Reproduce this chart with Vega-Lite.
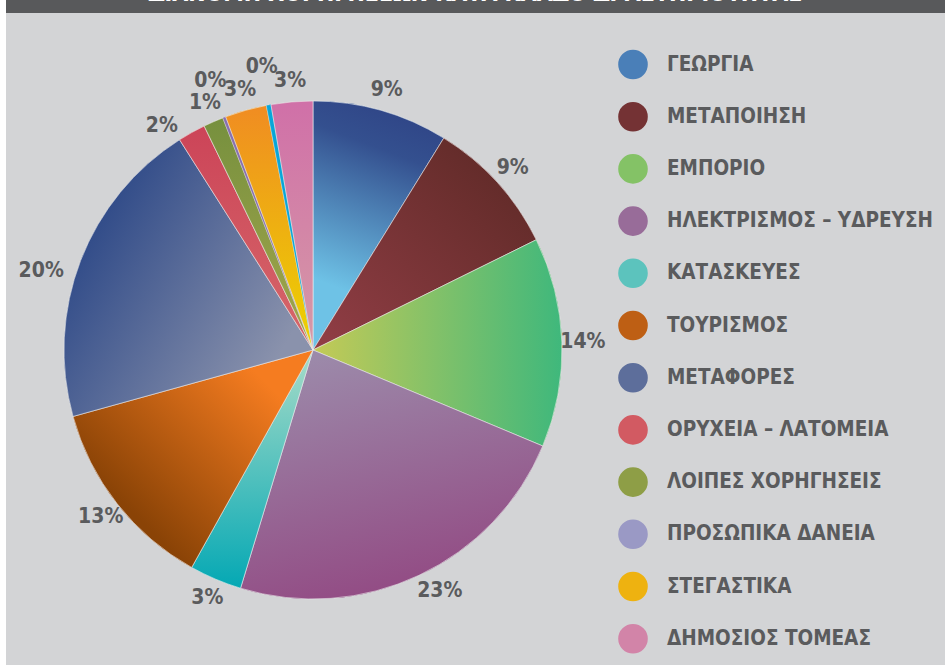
{
  "$schema": "https://vega.github.io/schema/vega-lite/v6.json",
  "background": "white",
  "padding": {"left": 6, "top": 0, "right": 0, "bottom": 0},
  "spacing": 0,
  "config": {"view": {"stroke": null}, "font": "DejaVu Sans Condensed"},
  "datasets": {
    "slices": [
      {"idx": 0, "cat": "ΓΕΩΡΓΙΑ", "value": 8.8, "label": "9%"},
      {"idx": 1, "cat": "ΜΕΤΑΠΟΙΗΣΗ", "value": 8.9, "label": "9%"},
      {"idx": 2, "cat": "ΕΜΠΟΡΙΟ", "value": 13.6, "label": "14%"},
      {"idx": 3, "cat": "ΗΛΕΚΤΡΙΣΜΟΣ – ΥΔΡΕΥΣΗ", "value": 23.4, "label": "23%"},
      {"idx": 4, "cat": "ΚΑΤΑΣΚΕΥΕΣ", "value": 3.4, "label": "3%"},
      {"idx": 5, "cat": "ΤΟΥΡΙΣΜΟΣ", "value": 12.6, "label": "13%"},
      {"idx": 6, "cat": "ΜΕΤΑΦΟΡΕΣ", "value": 20.3, "label": "20%"},
      {"idx": 7, "cat": "ΟΡΥΧΕΙΑ – ΛΑΤΟΜΕΙΑ", "value": 1.8, "label": "2%"},
      {"idx": 8, "cat": "ΛΟΙΠΕΣ ΧΟΡΗΓΗΣΕΙΣ", "value": 1.3, "label": "1%"},
      {"idx": 9, "cat": "ΠΡΟΣΩΠΙΚΑ ΔΑΝΕΙΑ", "value": 0.2, "label": "0%"},
      {"idx": 10, "cat": "ΣΤΕΓΑΣΤΙΚΑ", "value": 2.7, "label": "3%"},
      {"idx": 11, "cat": "ΛΟΙΠΑ", "value": 0.3, "label": "0%"},
      {"idx": 12, "cat": "ΔΗΜΟΣΙΟΣ ΤΟΜΕΑΣ", "value": 2.7, "label": "3%"}
    ],
    "heading": [{"t": "ΔΙΑΝΟΜΗ ΧΟΡΗΓΗΣΕΩΝ ΚΑΤΑ ΚΛΑΔΟ ΔΡΑΣΤΗΡΙΟΤΗΤΑΣ"}]
  },
  "resolve": {"scale": {"color": "independent"}, "legend": {"color": "independent"}},
  "vconcat": [
    {
      "data": {"name": "heading"},
      "width": 939,
      "height": 13,
      "view": {"fill": "#58595b", "stroke": null},
      "mark": {"type": "text", "clip": true, "color": "#ffffff", "fontSize": 23, "fontWeight": "bold", "baseline": "alphabetic", "align": "center", "dy": -6},
      "encoding": {
        "x": {"field": "t", "type": "nominal", "axis": null},
        "y": {"field": "t", "type": "nominal", "axis": null},
        "text": {"field": "t"}
      }
    },
    {
      "data": {"name": "slices"},
      "width": 939,
      "height": 652,
      "view": {"fill": "#d3d4d6", "stroke": null},
      "transform": [{"stack": "value", "groupby": [], "sort": [{"field": "idx", "order": "ascending"}], "as": ["v0", "v1"]}],
      "layer": [
        {
          "mark": {"type": "arc", "radius": 249, "x": 307, "y": 337},
          "encoding": {
            "theta": {"field": "v0", "type": "quantitative", "scale": {"domain": [0, 100]}},
            "theta2": {"field": "v1"},
            "color": {
              "field": "cat", "type": "nominal",
              "scale": {
                "domain": ["ΓΕΩΡΓΙΑ", "ΜΕΤΑΠΟΙΗΣΗ", "ΕΜΠΟΡΙΟ", "ΗΛΕΚΤΡΙΣΜΟΣ – ΥΔΡΕΥΣΗ", "ΚΑΤΑΣΚΕΥΕΣ", "ΤΟΥΡΙΣΜΟΣ", "ΜΕΤΑΦΟΡΕΣ", "ΟΡΥΧΕΙΑ – ΛΑΤΟΜΕΙΑ", "ΛΟΙΠΕΣ ΧΟΡΗΓΗΣΕΙΣ", "ΠΡΟΣΩΠΙΚΑ ΔΑΝΕΙΑ", "ΣΤΕΓΑΣΤΙΚΑ", "ΛΟΙΠΑ", "ΔΗΜΟΣΙΟΣ ΤΟΜΕΑΣ"],
                "range": ["#4a7fb8", "#743234", "#84c266", "#986c99", "#5cc3bd", "#be5f14", "#5d6e9b", "#d25a62", "#8e9e46", "#9a99c5", "#eeb210", "#08a6d8", "#d284a8"]
              },
              "legend": {
                "orient": "none", "legendX": 612, "legendY": 36.5, "title": null, "padding": 0,
                "values": ["ΓΕΩΡΓΙΑ", "ΜΕΤΑΠΟΙΗΣΗ", "ΕΜΠΟΡΙΟ", "ΗΛΕΚΤΡΙΣΜΟΣ – ΥΔΡΕΥΣΗ", "ΚΑΤΑΣΚΕΥΕΣ", "ΤΟΥΡΙΣΜΟΣ", "ΜΕΤΑΦΟΡΕΣ", "ΟΡΥΧΕΙΑ – ΛΑΤΟΜΕΙΑ", "ΛΟΙΠΕΣ ΧΟΡΗΓΗΣΕΙΣ", "ΠΡΟΣΩΠΙΚΑ ΔΑΝΕΙΑ", "ΣΤΕΓΑΣΤΙΚΑ", "ΔΗΜΟΣΙΟΣ ΤΟΜΕΑΣ"],
                "symbolType": "circle", "symbolSize": 876, "symbolStrokeWidth": 0, "symbolOpacity": 1,
                "labelFont": "DejaVu Sans Condensed", "labelFontSize": 20.5, "labelFontWeight": 600, "labelColor": "#5a5b5d",
                "labelLimit": 400, "labelOffset": 19, "rowPadding": 22.2
              }
            }
          }
        },
        {"transform": [{"filter": "datum.idx === 0"}], "mark": {"type": "arc", "radius": 249, "x": 307, "y": 337, "stroke": "#ececec", "strokeWidth": 0.6, "fill": {"gradient": "linear", "x1": 0.6, "y1": 0, "x2": 0.4, "y2": 1, "stops": [{"offset": 0, "color": "#2f4486"}, {"offset": 0.2, "color": "#34508f"}, {"offset": 0.8, "color": "#6ec2e6"}, {"offset": 1, "color": "#6ec2e6"}]}}, "encoding": {"theta": {"field": "v0", "type": "quantitative"}, "theta2": {"field": "v1"}}},
        {"transform": [{"filter": "datum.idx === 1"}], "mark": {"type": "arc", "radius": 249, "x": 307, "y": 337, "stroke": "#ececec", "strokeWidth": 0.6, "fill": {"gradient": "linear", "x1": 1, "y1": 0, "x2": 0, "y2": 1, "stops": [{"offset": 0, "color": "#5a2824"}, {"offset": 1, "color": "#923e46"}]}}, "encoding": {"theta": {"field": "v0", "type": "quantitative"}, "theta2": {"field": "v1"}}},
        {"transform": [{"filter": "datum.idx === 2"}], "mark": {"type": "arc", "radius": 249, "x": 307, "y": 337, "stroke": "#ececec", "strokeWidth": 0.6, "fill": {"gradient": "linear", "x1": 0, "y1": 0.5, "x2": 1, "y2": 0.5, "stops": [{"offset": 0, "color": "#c4ca56"}, {"offset": 1, "color": "#3fb87c"}]}}, "encoding": {"theta": {"field": "v0", "type": "quantitative"}, "theta2": {"field": "v1"}}},
        {"transform": [{"filter": "datum.idx === 3"}], "mark": {"type": "arc", "radius": 249, "x": 307, "y": 337, "stroke": "#ececec", "strokeWidth": 0.6, "fill": {"gradient": "linear", "x1": 0.3, "y1": 0, "x2": 0.6, "y2": 1, "stops": [{"offset": 0, "color": "#9c8aaa"}, {"offset": 1, "color": "#924882"}]}}, "encoding": {"theta": {"field": "v0", "type": "quantitative"}, "theta2": {"field": "v1"}}},
        {"transform": [{"filter": "datum.idx === 4"}], "mark": {"type": "arc", "radius": 249, "x": 307, "y": 337, "stroke": "#ececec", "strokeWidth": 0.6, "fill": {"gradient": "linear", "x1": 0.5, "y1": 0, "x2": 0.5, "y2": 1, "stops": [{"offset": 0, "color": "#a8dcc8"}, {"offset": 1, "color": "#04a8b4"}]}}, "encoding": {"theta": {"field": "v0", "type": "quantitative"}, "theta2": {"field": "v1"}}},
        {"transform": [{"filter": "datum.idx === 5"}], "mark": {"type": "arc", "radius": 249, "x": 307, "y": 337, "stroke": "#ececec", "strokeWidth": 0.6, "fill": {"gradient": "linear", "x1": 0.85, "y1": 0.2, "x2": 0.25, "y2": 0.75, "stops": [{"offset": 0, "color": "#f57c20"}, {"offset": 1, "color": "#8a4306"}]}}, "encoding": {"theta": {"field": "v0", "type": "quantitative"}, "theta2": {"field": "v1"}}},
        {"transform": [{"filter": "datum.idx === 6"}], "mark": {"type": "arc", "radius": 249, "x": 307, "y": 337, "stroke": "#ececec", "strokeWidth": 0.6, "fill": {"gradient": "linear", "x1": 0.1, "y1": 0.3, "x2": 0.85, "y2": 0.8, "stops": [{"offset": 0, "color": "#2f4a88"}, {"offset": 1, "color": "#8a92ac"}]}}, "encoding": {"theta": {"field": "v0", "type": "quantitative"}, "theta2": {"field": "v1"}}},
        {"transform": [{"filter": "datum.idx === 7"}], "mark": {"type": "arc", "radius": 249, "x": 307, "y": 337, "stroke": "#ececec", "strokeWidth": 0.6, "fill": {"gradient": "linear", "x1": 0.5, "y1": 0, "x2": 0.5, "y2": 1, "stops": [{"offset": 0, "color": "#cc4458"}, {"offset": 1, "color": "#d6686a"}]}}, "encoding": {"theta": {"field": "v0", "type": "quantitative"}, "theta2": {"field": "v1"}}},
        {"transform": [{"filter": "datum.idx === 8"}], "mark": {"type": "arc", "radius": 249, "x": 307, "y": 337, "stroke": "#ececec", "strokeWidth": 0.6, "fill": {"gradient": "linear", "x1": 0.5, "y1": 0, "x2": 0.5, "y2": 1, "stops": [{"offset": 0, "color": "#76903e"}, {"offset": 1, "color": "#a4a64c"}]}}, "encoding": {"theta": {"field": "v0", "type": "quantitative"}, "theta2": {"field": "v1"}}},
        {"transform": [{"filter": "datum.idx === 9"}], "mark": {"type": "arc", "radius": 249, "x": 307, "y": 337, "stroke": "#ececec", "strokeWidth": 0.3, "fill": "#8870b0"}, "encoding": {"theta": {"field": "v0", "type": "quantitative"}, "theta2": {"field": "v1"}}},
        {"transform": [{"filter": "datum.idx === 10"}], "mark": {"type": "arc", "radius": 249, "x": 307, "y": 337, "stroke": "#ececec", "strokeWidth": 0.6, "fill": {"gradient": "linear", "x1": 0.5, "y1": 0, "x2": 0.5, "y2": 1, "stops": [{"offset": 0, "color": "#f08c22"}, {"offset": 1, "color": "#ecd400"}]}}, "encoding": {"theta": {"field": "v0", "type": "quantitative"}, "theta2": {"field": "v1"}}},
        {"transform": [{"filter": "datum.idx === 11"}], "mark": {"type": "arc", "radius": 249, "x": 307, "y": 337, "stroke": "#ececec", "strokeWidth": 0.3, "fill": "#08a6d8"}, "encoding": {"theta": {"field": "v0", "type": "quantitative"}, "theta2": {"field": "v1"}}},
        {"transform": [{"filter": "datum.idx === 12"}], "mark": {"type": "arc", "radius": 249, "x": 307, "y": 337, "stroke": "#ececec", "strokeWidth": 0.6, "fill": {"gradient": "linear", "x1": 0.5, "y1": 0, "x2": 0.5, "y2": 1, "stops": [{"offset": 0, "color": "#d070a8"}, {"offset": 1, "color": "#d69aa6"}]}}, "encoding": {"theta": {"field": "v0", "type": "quantitative"}, "theta2": {"field": "v1"}}},
        {
          "mark": {"type": "text", "radius": 270, "x": 307, "y": 337, "fontSize": 21, "fontWeight": "bold", "font": "DejaVu Sans Condensed", "color": "#5a5b5d", "align": "center", "baseline": "middle"},
          "encoding": {
            "theta": {"field": "value", "type": "quantitative", "stack": true},
            "order": {"field": "idx", "type": "quantitative"},
            "text": {"field": "label"},
            "opacity": {"condition": {"test": "datum.label === '0%' || datum.idx === 6 || datum.idx === 7 || datum.idx === 3", "value": 0}, "value": 1}
          }
        },
        {
          "mark": {"type": "text", "radius": 272, "thetaOffset": -0.045, "x": 307, "y": 337, "fontSize": 21, "fontWeight": "bold", "font": "DejaVu Sans Condensed", "color": "#5a5b5d", "align": "center", "baseline": "middle"},
          "encoding": {
            "theta": {"field": "value", "type": "quantitative", "stack": true},
            "order": {"field": "idx", "type": "quantitative"},
            "text": {"field": "label"},
            "opacity": {"condition": {"test": "datum.idx === 3", "value": 1}, "value": 0}
          }
        },
        {
          "mark": {"type": "text", "radius": 283, "thetaOffset": -0.085, "x": 307, "y": 337, "fontSize": 21, "fontWeight": "bold", "font": "DejaVu Sans Condensed", "color": "#5a5b5d", "align": "center", "baseline": "middle"},
          "encoding": {
            "theta": {"field": "value", "type": "quantitative", "stack": true},
            "order": {"field": "idx", "type": "quantitative"},
            "text": {"field": "label"},
            "opacity": {"condition": {"test": "datum.idx === 6", "value": 1}, "value": 0}
          }
        },
        {
          "mark": {"type": "text", "radius": 270, "thetaOffset": -0.085, "x": 307, "y": 337, "fontSize": 21, "fontWeight": "bold", "font": "DejaVu Sans Condensed", "color": "#5a5b5d", "align": "center", "baseline": "middle"},
          "encoding": {
            "theta": {"field": "value", "type": "quantitative", "stack": true},
            "order": {"field": "idx", "type": "quantitative"},
            "text": {"field": "label"},
            "opacity": {"condition": {"test": "datum.idx === 7", "value": 1}, "value": 0}
          }
        },
        {
          "mark": {"type": "text", "radius": 288, "x": 307, "y": 337, "fontSize": 21, "fontWeight": "bold", "font": "DejaVu Sans Condensed", "color": "#5a5b5d", "align": "center", "baseline": "middle"},
          "encoding": {
            "theta": {"field": "value", "type": "quantitative", "stack": true},
            "order": {"field": "idx", "type": "quantitative"},
            "text": {"field": "label"},
            "opacity": {"condition": {"test": "datum.label === '0%'", "value": 1}, "value": 0}
          }
        }
      ]
    }
  ]
}
